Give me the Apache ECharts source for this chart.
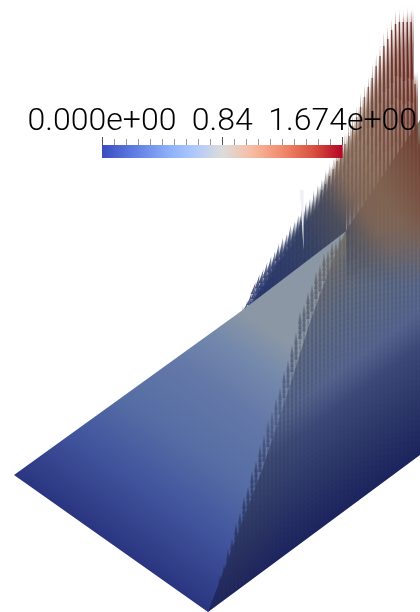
<!DOCTYPE html>
<html><head><meta charset="utf-8">
<style>html,body{margin:0;padding:0;background:#fff}#c{width:420px;height:612px}</style>
<script src="https://cdn.jsdelivr.net/npm/echarts@6/dist/echarts.min.js"></script>
</head><body><div id="c"></div>
<script>
// Colour scale
const scaleMin = 0, scaleMid = 0.837, scaleMax = 1.674;
const scaleLabels = ['0.000e+00', '0.84', '1.674e+00'];
const scaleStops = [[0,'#3b4cc0'],[0.12,'#5a78e0'],[0.28,'#8eb0fa'],[0.37,'#aac6ff'],[0.5,'#dcdcdc'],[0.62,'#f7bda4'],[0.75,'#f08a6c'],[0.88,'#d8503f'],[1,'#b40426']];
// Sheet outline (x, y)
const sheetLeft = [[14,475],[240,312],[345,232],[420,232],[420,400],[208,612]];
const sheetRight = [[208,612],[262,470],[288,392],[310,322],[330,268],[345,232],[420,120],[420,455]];
const slit = [[300,190],[303.5,190],[303.5,250]];
// Glyphs standing above the ridge: one column per x
const cloudX = [240,244,248,252,256,260,264,268,272,276,280,284,288,292,296,300,304,308,312,316,320,324,328,332,336,340,344,348,352,356,360,364,368,372,376,380,384,388,392,396,400,404,408,412,416,420];
const cloudTop = [312,300,290,282,273,266,262,255,248,243,236,231,225,220,212,206,200,195,190,183,176,170,162,155,147,140,130,122,112,103,93,83,73,64,52,42,32,25,16,10,8,8,8,8,70,130];
const cloudDense = [312,306,300,292,284,276,272,265,258,252,246,240,234,228,222,216,210,205,200,194,186,180,172,166,158,150,142,134,124,116,106,96,86,76,66,56,46,36,28,22,18,14,12,10,72,132];
const cloudRidge = [312,309,306,303,300,297,294,291,288,285,282,280,277,274,271,268,265,262,259,256,254,251,248,245,242,239,236,null,null,null,null,null,null,null,null,null,null,null,null,null,null,null,null,null,null,null];
const cloudLen = [10,10,12,12,14,14,16,16,18,18,20,20,22,22,24,24,26,26,28,28,30,30,32,34,36,38,40,42,44,46,48,50,52,54,56,58,60,62,64,66,68,70,70,70,70,70];
// Glyphs lying over the lower part of the sheet
const lowerX = [212,216,220,224,228,232,236,240,244,248,252,256,260,264,268,272,276,280,284,288,292,296,300,304,308,312,316,320,324,328,332,336,340,344,348,352,356,360,364,368,372,376,380,384,388,392,396,400,404,408,412,416,420];
const lowerTop = [600,588,575,562,549,536,523,510,497,484,471,458,445,432,420,409,398,385,371,358,345,330,312,302,292,282,272,262,254,248,243,239,235,232,228,226,222,219,216,213,210,207,204,201,198,195,192,189,186,183,180,177,175];
const lowerBottom = [609,606,603,600,597,594,591,588,585,582,579,576,573,570,567,565,562,559,556,553,550,547,544,541,538,535,532,530,527,524,521,518,515,512,509,506,503,500,497,494,491,489,486,483,480,477,474,471,468,465,462,459,456];

const G = echarts.graphic.LinearGradient;
const st = a => a.map(s => ({offset:s[0], color:s[1]}));
const surfaceStops = st([[0,'#2a3580'],[0.27,'#42569e'],[0.48,'#566ea5'],[0.7,'#6478a8'],[0.86,'#7388ac'],[1,'#8b97a5']]);
const lowerStops = st([[0,'#1c2460'],[0.17,'#2a3568'],[0.38,'#3c4a7a'],[0.5,'#566590'],[0.72,'#5f6d88'],[0.83,'#6a6e7c'],[1,'#7a7468']]);
const cloudStops = [[0,'#26346a'],[0.24,'#333f62'],[0.38,'#4a4c5a'],[0.48,'#7c6254'],[0.58,'#80624f'],[0.74,'#74483a'],[0.89,'#6a2c22'],[1,'#5e1c18']];
const surfaceGrad = new G(14,475,168,258,surfaceStops,true);
const lowerGrad = new G(320,530,182,346,lowerStops,true);
const cloudGrad = new G(260,290,490,155,st(cloudStops),true);

function cloudColor(x, y){
  const t = Math.min(1, Math.max(0, ((x-260)*0.85 + (290-y)*0.5)/270));
  for (let k=1;k<cloudStops.length;k++){
    if (t<=cloudStops[k][0]) {
      const f=(t-cloudStops[k-1][0])/(cloudStops[k][0]-cloudStops[k-1][0]);
      return echarts.color.lerp(f,[cloudStops[k-1][1],cloudStops[k][1]]);
    }
  }
  return cloudStops[cloudStops.length-1][1];
}
const alphaAt = y => y<60 ? 0.5 : y<120 ? 0.5+0.22*(y-60)/60 : y>210 ? 0.97 : 0.72+0.25*(y-120)/90;

function poly(api, pts, fill, opacity){
  return {type:'polygon',shape:{points:pts.map(p=>api.coord(p))},style:{fill:fill,opacity:opacity==null?1:opacity},silent:true};
}
const cloudRows = cloudX.map((x,i)=>[x,cloudTop[i],cloudDense[i],cloudRidge[i]==null?-1:cloudRidge[i],cloudLen[i],i]);
function renderCloud(p, api){
  const x=api.value(0),top=api.value(1),dense=api.value(2),ridge=api.value(3),len=api.value(4),i=api.value(5),kids=[];
  const fade=ridge<0, bot=fade?285:ridge+8;
  // wash
  if(bot-dense>=1){
    const n=8,stops=[];
    for(let k=0;k<=n;k++){
      const f=k/n,y=dense+(bot-dense)*f;
      let a=alphaAt(y)*Math.min(1,(y-dense)/16);
      if(fade&&y>205)a*=Math.max(0,(285-y)/80);
      stops.push({offset:f,color:echarts.color.modifyAlpha(cloudColor(x,y),a)});
    }
    const a=api.coord([x-2,dense]),b=api.coord([x+2,bot]);
    kids.push({type:'rect',shape:{x:a[0],y:a[1],width:b[0]-a[0],height:b[1]-a[1]},style:{fill:new G(0,0,0,1,stops)}});
  }
  // glyphs
  const end=fade?290:ridge+8, step=Math.max(5,len/3), lean=(x-380)*-0.03;
  for(let y=top+(i%3)*1.5;y<end;y+=step){
    const op=fade&&y+len>200?0.8*Math.max(0,(290-(y+len))/90):0.8;
    if(op<=0) continue;
    kids.push(poly(api,[[x+lean,y],[x+1.3,y+len],[x-1.3,y+len]],cloudGrad,op));
  }
  if(x>=320){
    const a=api.coord([x+lean,top+14]),b=api.coord([x-lean*0.4,Math.min(bot,235)]);
    kids.push({type:'line',shape:{x1:a[0],y1:a[1],x2:b[0],y2:b[1]},style:{stroke:cloudGrad,lineWidth:1.4,opacity:0.8}});
  }
  return {type:'group',children:kids};
}
const chart = echarts.init(document.getElementById('c'),null,{renderer:'canvas'});
chart.setOption({
  animation:false,
  backgroundColor:'#ffffff',
  grid:[
    {left:0,top:0,width:420,height:612,containLabel:false},
    {left:102,top:145,width:242,height:13,containLabel:false}
  ],
  xAxis:[
    {gridIndex:0,type:'value',min:0,max:420,show:false},
    {gridIndex:1,type:'value',position:'top',min:scaleMin,max:scaleMax,interval:scaleMid,z:20,
     axisLine:{show:true,onZero:false,lineStyle:{color:'rgba(0,0,0,0)'}},splitLine:{show:false},
     axisTick:{show:true,inside:false,length:8,lineStyle:{color:'#555',width:1}},
     minorTick:{show:true,splitNumber:10,length:6,lineStyle:{color:'#999',width:1}},
     axisLabel:{show:true,margin:7,fontFamily:'Roboto',fontWeight:300,fontSize:32,color:'#000',hideOverlap:false,showMinLabel:true,showMaxLabel:true,
       formatter:(v)=>v===scaleMin?scaleLabels[0]:v===scaleMax?scaleLabels[2]:scaleLabels[1]}}
  ],
  yAxis:[
    {gridIndex:0,type:'value',min:0,max:612,inverse:true,show:false},
    {gridIndex:1,type:'value',min:0,max:1,show:false}
  ],
  series:[
    // glyphs behind the ridge
    {type:'custom',xAxisIndex:0,yAxisIndex:0,silent:true,clip:false,z:1,
     data:cloudRows.filter(r=>r[3]>0),encode:{x:0,y:1},renderItem:renderCloud},
    {type:'custom',xAxisIndex:0,yAxisIndex:0,silent:true,clip:false,z:2,data:[0],
     renderItem:(p,api)=>({type:'group',children:[
       poly(api,sheetLeft,surfaceGrad),
       poly(api,sheetRight,lowerGrad)
     ]})},
    // lower glyphs
    {type:'custom',xAxisIndex:0,yAxisIndex:0,silent:true,clip:false,z:3,
     data:lowerX.map((x,i)=>[x,lowerTop[i],lowerBottom[i]]),encode:{x:0,y:1},
     renderItem:(p,api)=>{
       const x=api.value(0),top=api.value(1),bot=api.value(2),i=p.dataIndex,kids=[];
       for(let y=top+(i%2)*2.5;y<bot-4;y+=5){
         const len=Math.min(12,bot-3-y), d=(y-top);
         if(d<20) kids.push(poly(api,[[x,y],[x+2.1,y+len],[x-2.1,y+len]],lowerGrad,0.7));
         const op=Math.max(0.05,d<70?0.2:0.2-(d-70)/500);
         kids.push(poly(api,[[x,y],[x+1,y+len],[x-1,y+len]],'#3e3a36',op));
       }
       return {type:'group',children:kids};
     }},
    // glyphs in front, right of the ridge end
    {type:'custom',xAxisIndex:0,yAxisIndex:0,silent:true,clip:false,z:4,
     data:cloudRows.filter(r=>r[3]<0),encode:{x:0,y:1},renderItem:renderCloud},
    {type:'custom',xAxisIndex:0,yAxisIndex:0,silent:true,z:5,data:[0],
     renderItem:(p,api)=>poly(api,slit,'#eef0f4')},
    {type:'custom',xAxisIndex:1,yAxisIndex:1,silent:true,z:6,data:[0],
     renderItem:(p,api)=>{
       const a=api.coord([scaleMin,1]),b=api.coord([scaleMax,0]);
       return {type:'rect',shape:{x:a[0],y:a[1],width:b[0]-a[0],height:b[1]-a[1]},
         style:{fill:new G(0,0,1,0,st(scaleStops))}};
     }}
  ]
});
</script></body></html>
